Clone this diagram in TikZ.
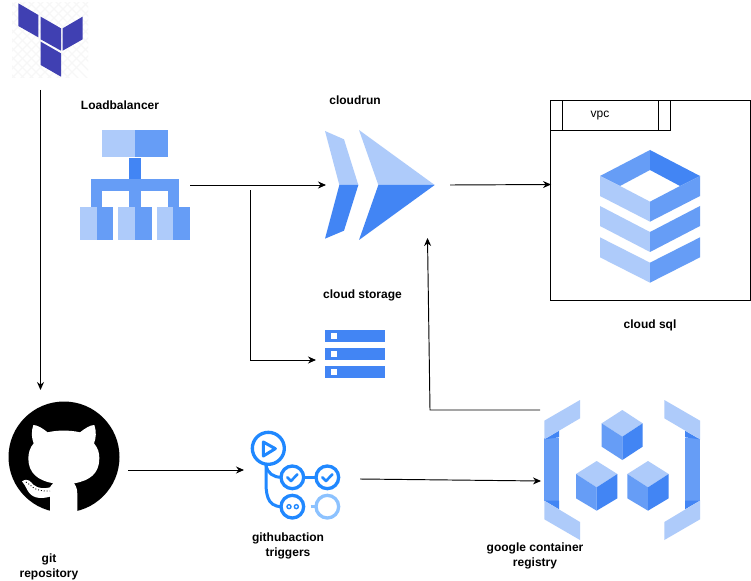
\documentclass[tikz,border=0pt]{standalone}
\usepackage{fontspec}
\setmainfont{Liberation Sans}
\usetikzlibrary{arrows.meta}
\definecolor{gl}{HTML}{AECBFA}
\definecolor{gm}{HTML}{669DF6}
\definecolor{gd}{HTML}{4285F4}
\definecolor{tf}{HTML}{4040B2}
\definecolor{gh}{HTML}{2088FF}
\definecolor{ghl}{HTML}{8CC2FF}
\tikzset{
 zoomed/.style={shift={#1},x=0.33333pt,y=-0.33333pt},
 conn/.style={draw=black,line width=0.95pt,-{Stealth[length=8pt,width=7pt]}},
 lab/.style={font=\bfseries\fontsize{12}{15}\selectfont,align=center,text=black,inner sep=0pt},
 box/.style={draw=black,line width=1pt,fill=none},
 ring/.style={draw=gh,line width=3.3pt,fill=none},
 wire/.style={draw=gh,line width=3pt,fill=none}
}
\begin{document}
\begin{tikzpicture}[x=1pt,y=-1pt]
\useasboundingbox (0,0) rectangle (751,580);
\fill[white] (0,0) rectangle (751,580);

% terraform
\begin{scope}
\clip (12,3) rectangle (88,78);
\foreach \k in {-8,...,16}{
 \draw[black!3,line width=1.2pt] ({\k*9},0) -- ++(90,90);
 \draw[black!3,line width=1.2pt] ({\k*9},0) -- ++(-90,90);
}
\end{scope}
\begin{scope}[zoomed={(0,0)}]
\fill[tf] (55,10)--(115,45)--(115,112)--(55,78)--cycle;
\fill[tf] (122,50)--(183,85)--(183,152)--(122,118)--cycle;
\fill[tf] (188,85)--(248,50)--(248,118)--(188,152)--cycle;
\fill[tf] (122,125)--(183,160)--(183,230)--(122,195)--cycle;
\end{scope}

% load balancer
\begin{scope}[zoomed={(0,0)}]
\fill[gl] (305,390) rectangle (405,472);
\fill[gm] (405,390) rectangle (504,472);
\fill[gd] (388,474) rectangle (422,538);
\fill[gm] (272,538) rectangle (537,572);
\fill[gm] (272,572) rectangle (305,620);
\fill[gm] (388,572) rectangle (422,620);
\fill[gm] (504,572) rectangle (537,620);
\fill[gl] (240,620) rectangle (290,720);
\fill[gm] (290,620) rectangle (339,720);
\fill[gl] (355,620) rectangle (405,720);
\fill[gm] (405,620) rectangle (455,720);
\fill[gl] (470,620) rectangle (520,720);
\fill[gm] (520,620) rectangle (570,720);
\end{scope}

% cloud run
\begin{scope}[zoomed={(310,90)}]
\fill[gl] (45,123)--(102,148)--(145,285)--(88,285)--cycle;
\fill[gd] (88,285)--(145,285)--(102,422)--(45,446)--cycle;
\fill[gl] (147,120)--(374,285)--(205,285)--cycle;
\fill[gd] (205,285)--(374,285)--(147,450)--cycle;
\end{scope}

% cloud sql
\begin{scope}[zoomed={(540,90)}]
\fill[gm] (180,258)--(330,180)--(330,240)--(240,288)--cycle;
\fill[gd] (330,180)--(480,258)--(420,288)--(330,240)--cycle;
\fill[gl] (180,258)--(240,288)--(330,335)--(330,395)--(180,318)--cycle;
\fill[gm] (330,335)--(420,288)--(480,258)--(480,318)--(330,395)--cycle;
\fill[gl] (180,348)--(330,426)--(330,486)--(180,408)--cycle;
\fill[gm] (480,348)--(330,426)--(330,486)--(480,408)--cycle;
\fill[gl] (180,442)--(330,518)--(330,578)--(180,502)--cycle;
\fill[gm] (480,442)--(330,518)--(330,578)--(480,502)--cycle;
\end{scope}
\draw[box] (550.5,100.5) rectangle (750.5,300.5);
\draw[box] (550.5,100.5) rectangle (670.5,130.5);
\draw[box] (562.5,100.5) -- (562.5,130.5);
\draw[box] (658.5,100.5) -- (658.5,130.5);

% cloud storage
\begin{scope}[zoomed={(310,280)}]
\fill[gd] (45,150) rectangle (225,186);
\fill[gd] (45,204) rectangle (225,240);
\fill[gd] (45,258) rectangle (225,294);
\fill[white] (63,159) rectangle (81,177);
\fill[white] (63,213) rectangle (81,231);
\fill[white] (63,267) rectangle (81,285);
\end{scope}

% github
\fill[black] (64,457) circle (55.5);
\begin{scope}[zoomed={(0,390)}]
\fill[white] (100,105) .. controls (112,105) and (128,115) .. (143,127)
  .. controls (170,120) and (212,120) .. (240,127)
  .. controls (255,115) and (271,105) .. (283,105)
  .. controls (290,125) and (288,145) .. (282,160)
  .. controls (295,175) and (298,190) .. (298,205)
  .. controls (298,250) and (270,272) .. (222,280)
  .. controls (230,290) and (232,300) .. (232,315)
  -- (232,380) -- (150,380) -- (150,320)
  .. controls (120,328) and (95,325) .. (82,300)
  .. controls (78,290) and (72,282) .. (66,274)
  .. controls (85,262) and (92,276) .. (100,284)
  .. controls (115,297) and (135,296) .. (150,292)
  .. controls (152,288) and (155,284) .. (160,280)
  .. controls (115,272) and (85,250) .. (85,205)
  .. controls (85,190) and (90,172) .. (101,160)
  .. controls (95,145) and (93,125) .. (100,105) -- cycle;
\draw[black,line width=0.9pt,dotted] (78,276) .. controls (95,285) and (98,305) .. (150,303);
\end{scope}

% github actions
\begin{scope}[zoomed={(240,420)}]
\draw[wire] (78,135) -- (78,180) .. controls (78,215) and (78,260) .. (125,260);
\draw[wire] (78,135) .. controls (82,160) and (100,172) .. (125,172);
\draw[wire] (190,172) -- (230,172);
\draw[draw=ghl,line width=3pt] (212,260) -- (224,260);
\draw[ring] (85,85) circle (48);
\draw[draw=gh,line width=3pt,line join=round] (70,66) -- (106,86) -- (70,108) -- cycle;
\draw[ring] (157,172) circle (34);
\draw[ring] (262,172) circle (34);
\draw[ring] (157,260) circle (34);
\draw[draw=ghl,line width=3.3pt] (262,260) circle (34);
\draw[draw=gh,line width=2.6pt,line cap=round,line join=round] (142,172) -- (153,183) -- (172,163);
\draw[draw=gh,line width=2.6pt,line cap=round,line join=round] (247,172) -- (258,183) -- (277,163);
\draw[draw=gh,line width=1.4pt] (147,260) circle (6) (169,260) circle (6);
\end{scope}

% container registry
\begin{scope}[zoomed={(530,390)}]
\fill[gm] (43,145) rectangle (87,332);
\fill[gd] (43,148)--(87,122)--(87,142)--cycle;
\fill[gd] (43,332)--(87,358)--(87,332)--cycle;
\fill[gl] (43,92)--(150,30)--(150,85)--(43,148)--cycle;
\fill[gl] (43,332)--(150,396)--(150,450)--(43,388)--cycle;
\fill[gm] (465,145) rectangle (510,332);
\fill[gd] (510,148)--(465,122)--(465,142)--cycle;
\fill[gd] (510,332)--(465,358)--(465,332)--cycle;
\fill[gl] (510,92)--(403,30)--(403,85)--(510,148)--cycle;
\fill[gl] (510,332)--(403,396)--(403,450)--(510,388)--cycle;
% cube 1
\fill[gl] (277,60)--(338,100)--(277,140)--(215,100)--cycle;
\fill[gm] (215,100)--(277,140)--(277,210)--(215,170)--cycle;
\fill[gd] (338,100)--(277,140)--(277,210)--(338,170)--cycle;
% cube 2
\fill[gl] (200,213)--(262,252)--(200,292)--(138,252)--cycle;
\fill[gm] (138,252)--(200,292)--(200,362)--(138,325)--cycle;
\fill[gd] (262,252)--(200,292)--(200,362)--(262,325)--cycle;
% cube 3
\fill[gl] (354,213)--(416,252)--(354,292)--(292,252)--cycle;
\fill[gm] (292,252)--(354,292)--(354,362)--(292,325)--cycle;
\fill[gd] (416,252)--(354,292)--(354,362)--(416,325)--cycle;
\end{scope}

% labels
\node[lab] (lLB) at (120,105.5) {Loadbalancer};
\node[lab] (lCR) at (355,100.5) {cloudrun};
\node[lab] (lCS) at (362.5,295.5) {cloud storage};
\node[lab] (lSQL) at (650,325.5) {cloud sql};
\node[inner sep=0pt,font=\fontsize{12}{14}\selectfont] (lVPC) at (600,115.5) {vpc};
\node[lab] (lGit) at (49,566.5) {git\\repository};
\node[lab] (lGA) at (288,545.5) {githubaction\\triggers};
\node[lab] (lGCR) at (535,555.5) {google container\\registry};

% connector ends
\coordinate (tfOut) at (40.5,90);
\coordinate (ghIn) at (40.5,390);
\coordinate (lbOut) at (190,185);
\coordinate (crIn) at (326,185);
\coordinate (crOut) at (450,185);
\coordinate (sqlIn) at (551,184.5);
\coordinate (lbBranch) at (250,190);
\coordinate (csElbow) at (250,360);
\coordinate (csIn) at (316,360);
\coordinate (gcrOut) at (540,410);
\coordinate (gcrElbow) at (430,410);
\coordinate (crBelow) at (427.5,238);
\coordinate (ghOut) at (128,470);
\coordinate (gaIn) at (244,470);
\coordinate (gaOut) at (360,479);
\coordinate (gcrIn) at (541,481);

\draw[conn] (tfOut) -- (ghIn);
\draw[conn] (lbOut) -- (crIn);
\draw[conn] (crOut) -- (sqlIn);
\draw[conn] (lbBranch) -- (csElbow) -- (csIn);
\draw[conn] (gcrOut) -- (gcrElbow) -- (crBelow);
\draw[conn] (ghOut) -- (gaIn);
\draw[conn] (gaOut) -- (gcrIn);
\end{tikzpicture}
\end{document}
